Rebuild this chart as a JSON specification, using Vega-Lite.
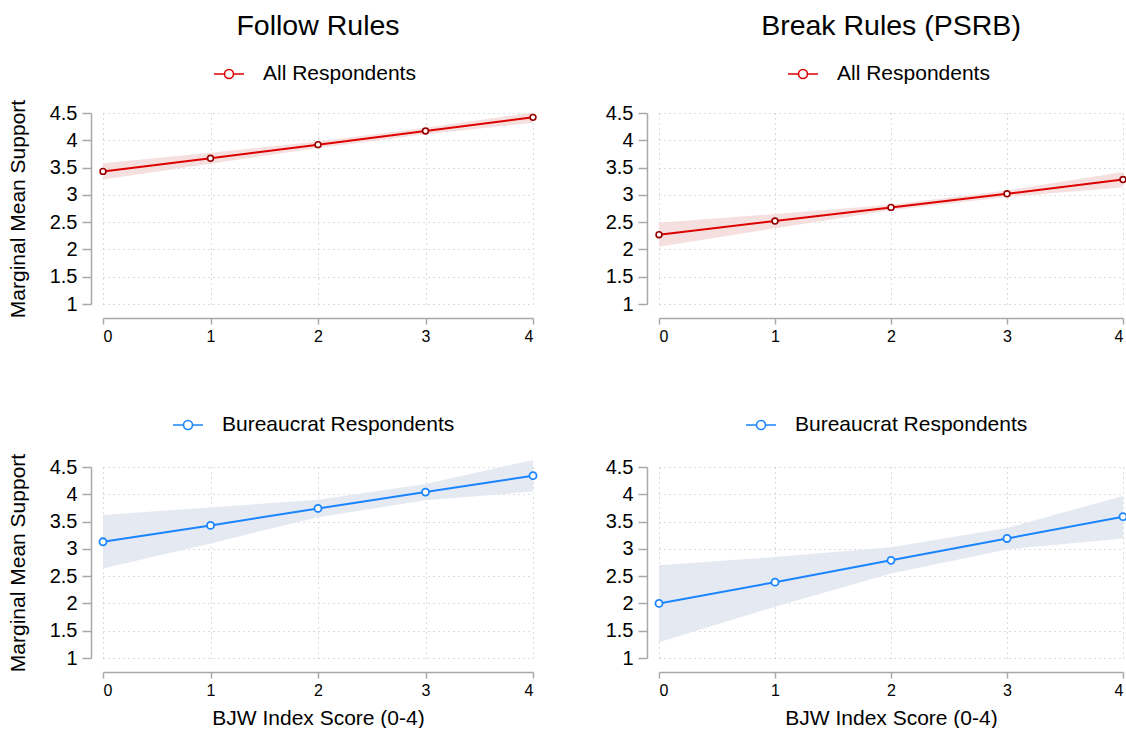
{
  "$schema": "https://vega.github.io/schema/vega-lite/v6.json",
  "padding": {"left": 7, "top": 11, "right": 0, "bottom": 0},
  "background": "white",
  "datasets": {
    "fa": [
      {"x": 0, "y": 3.43, "lo": 3.28, "hi": 3.58, "group": "All Respondents"},
      {"x": 1, "y": 3.67, "lo": 3.57, "hi": 3.77, "group": "All Respondents"},
      {"x": 2, "y": 3.92, "lo": 3.86, "hi": 3.98, "group": "All Respondents"},
      {"x": 3, "y": 4.17, "lo": 4.11, "hi": 4.23, "group": "All Respondents"},
      {"x": 4, "y": 4.42, "lo": 4.32, "hi": 4.51, "group": "All Respondents"}
    ],
    "ba": [
      {"x": 0, "y": 2.27, "lo": 2.05, "hi": 2.49, "group": "All Respondents"},
      {"x": 1, "y": 2.52, "lo": 2.39, "hi": 2.65, "group": "All Respondents"},
      {"x": 2, "y": 2.77, "lo": 2.72, "hi": 2.82, "group": "All Respondents"},
      {"x": 3, "y": 3.02, "lo": 2.96, "hi": 3.08, "group": "All Respondents"},
      {"x": 4, "y": 3.28, "lo": 3.14, "hi": 3.42, "group": "All Respondents"}
    ],
    "fb": [
      {"x": 0, "y": 3.13, "lo": 2.64, "hi": 3.62, "group": "Bureaucrat Respondents"},
      {"x": 1, "y": 3.43, "lo": 3.10, "hi": 3.76, "group": "Bureaucrat Respondents"},
      {"x": 2, "y": 3.74, "lo": 3.58, "hi": 3.90, "group": "Bureaucrat Respondents"},
      {"x": 3, "y": 4.04, "lo": 3.89, "hi": 4.19, "group": "Bureaucrat Respondents"},
      {"x": 4, "y": 4.34, "lo": 4.05, "hi": 4.63, "group": "Bureaucrat Respondents"}
    ],
    "bb": [
      {"x": 0, "y": 2.00, "lo": 1.29, "hi": 2.70, "group": "Bureaucrat Respondents"},
      {"x": 1, "y": 2.39, "lo": 1.94, "hi": 2.85, "group": "Bureaucrat Respondents"},
      {"x": 2, "y": 2.79, "lo": 2.55, "hi": 3.03, "group": "Bureaucrat Respondents"},
      {"x": 3, "y": 3.19, "lo": 2.99, "hi": 3.38, "group": "Bureaucrat Respondents"},
      {"x": 4, "y": 3.59, "lo": 3.19, "hi": 3.97, "group": "Bureaucrat Respondents"}
    ]
  },
  "columns": 2,
  "spacing": {"row": 163, "column": 126},
  "bounds": "flush",
  "resolve": {"scale": {"x": "independent", "y": "independent", "color": "independent"}, "legend": {"color": "independent"}, "axis": {"x": "independent", "y": "independent"}},
  "concat": [
    {
      "width": 430, "height": 191,
      "title": "Follow Rules",
      "data": {"name": "fa"},
      "encoding": {"x": {"field": "x", "type": "quantitative", "title": null, "scale": {"domain": [0, 4], "nice": false, "zero": false}, "axis": {"values": [0, 1, 2, 3, 4], "format": "d", "offset": 14, "tickSize": 6, "labelPadding": 4, "labelFontSize": 16}}},
      "layer": [
        {"mark": {"type": "area", "color": "#f5d9d9", "opacity": 0.85}, "encoding": {"y": {"field": "lo", "type": "quantitative", "title": "Marginal Mean Support", "scale": {"domain": [1, 4.5], "nice": false, "zero": false}, "axis": {"values": [1, 1.5, 2, 2.5, 3, 3.5, 4, 4.5], "format": "~g", "labelOverlap": false, "offset": 12, "tickSize": 9, "labelPadding": 5, "labelFontSize": 20, "titleFontSize": 21, "titlePadding": 21}}, "y2": {"field": "hi"}}},
        {"mark": {"type": "line", "strokeWidth": 2}, "encoding": {"y": {"field": "y", "type": "quantitative", "title": "Marginal Mean Support", "axis": {"values": [1, 1.5, 2, 2.5, 3, 3.5, 4, 4.5], "format": "~g", "labelOverlap": false, "offset": 12, "tickSize": 9, "labelPadding": 5, "labelFontSize": 20, "titleFontSize": 21, "titlePadding": 21}}, "color": {"field": "group", "type": "nominal", "scale": {"range": ["#dd0000"]}, "legend": {"orient": "none", "legendX": 110, "legendY": -55, "title": null, "symbolType": "M-1,0H-0.3M0.3,0H1M-0.3,0A0.3,0.3,0,1,1,0.3,0A0.3,0.3,0,1,1,-0.3,0", "symbolSize": 900, "symbolStrokeWidth": 1.6, "labelFontSize": 21, "labelOffset": 18, "labelLimit": 400}}}},
        {"mark": {"type": "point", "shape": "circle", "filled": false, "fill": "#ffffff", "fillOpacity": 1, "stroke": "#990000", "strokeWidth": 1.6, "size": 34, "opacity": 1}, "encoding": {"y": {"field": "y", "type": "quantitative", "title": "Marginal Mean Support", "axis": {"values": [1, 1.5, 2, 2.5, 3, 3.5, 4, 4.5], "format": "~g", "labelOverlap": false, "offset": 12, "tickSize": 9, "labelPadding": 5, "labelFontSize": 20, "titleFontSize": 21, "titlePadding": 21}}}}
      ]
    },
    {
      "width": 464, "height": 191,
      "title": "Break Rules (PSRB)",
      "data": {"name": "ba"},
      "encoding": {"x": {"field": "x", "type": "quantitative", "title": null, "scale": {"domain": [0, 4], "nice": false, "zero": false}, "axis": {"values": [0, 1, 2, 3, 4], "format": "d", "offset": 14, "tickSize": 6, "labelPadding": 4, "labelFontSize": 16}}},
      "layer": [
        {"mark": {"type": "area", "color": "#f5d9d9", "opacity": 0.85}, "encoding": {"y": {"field": "lo", "type": "quantitative", "title": null, "scale": {"domain": [1, 4.5], "nice": false, "zero": false}, "axis": {"values": [1, 1.5, 2, 2.5, 3, 3.5, 4, 4.5], "format": "~g", "labelOverlap": false, "offset": 12, "tickSize": 9, "labelPadding": 5, "labelFontSize": 20}}, "y2": {"field": "hi"}}},
        {"mark": {"type": "line", "strokeWidth": 2}, "encoding": {"y": {"field": "y", "type": "quantitative", "title": null, "axis": {"values": [1, 1.5, 2, 2.5, 3, 3.5, 4, 4.5], "format": "~g", "labelOverlap": false, "offset": 12, "tickSize": 9, "labelPadding": 5, "labelFontSize": 20}}, "color": {"field": "group", "type": "nominal", "scale": {"range": ["#dd0000"]}, "legend": {"orient": "none", "legendX": 128, "legendY": -55, "title": null, "symbolType": "M-1,0H-0.3M0.3,0H1M-0.3,0A0.3,0.3,0,1,1,0.3,0A0.3,0.3,0,1,1,-0.3,0", "symbolSize": 900, "symbolStrokeWidth": 1.6, "labelFontSize": 21, "labelOffset": 18, "labelLimit": 400}}}},
        {"mark": {"type": "point", "shape": "circle", "filled": false, "fill": "#ffffff", "fillOpacity": 1, "stroke": "#990000", "strokeWidth": 1.6, "size": 34, "opacity": 1}, "encoding": {"y": {"field": "y", "type": "quantitative", "title": null, "axis": {"values": [1, 1.5, 2, 2.5, 3, 3.5, 4, 4.5], "format": "~g", "labelOverlap": false, "offset": 12, "tickSize": 9, "labelPadding": 5, "labelFontSize": 20}}}}
      ]
    },
    {
      "width": 430, "height": 191,
      "data": {"name": "fb"},
      "encoding": {"x": {"field": "x", "type": "quantitative", "title": "BJW Index Score (0-4)", "scale": {"domain": [0, 4], "nice": false, "zero": false}, "axis": {"values": [0, 1, 2, 3, 4], "format": "d", "offset": 14, "tickSize": 6, "labelPadding": 4, "labelFontSize": 16, "titleFontSize": 21, "titlePadding": 9}}},
      "layer": [
        {"mark": {"type": "area", "color": "#e2e7f1", "opacity": 0.9}, "encoding": {"y": {"field": "lo", "type": "quantitative", "title": "Marginal Mean Support", "scale": {"domain": [1, 4.5], "nice": false, "zero": false}, "axis": {"values": [1, 1.5, 2, 2.5, 3, 3.5, 4, 4.5], "format": "~g", "labelOverlap": false, "offset": 12, "tickSize": 9, "labelPadding": 5, "labelFontSize": 20, "titleFontSize": 21, "titlePadding": 21}}, "y2": {"field": "hi"}}},
        {"mark": {"type": "line", "strokeWidth": 2}, "encoding": {"y": {"field": "y", "type": "quantitative", "title": "Marginal Mean Support", "axis": {"values": [1, 1.5, 2, 2.5, 3, 3.5, 4, 4.5], "format": "~g", "labelOverlap": false, "offset": 12, "tickSize": 9, "labelPadding": 5, "labelFontSize": 20, "titleFontSize": 21, "titlePadding": 21}}, "color": {"field": "group", "type": "nominal", "scale": {"range": ["#1a85ff"]}, "legend": {"orient": "none", "legendX": 69, "legendY": -58, "title": null, "symbolType": "M-1,0H-0.3M0.3,0H1M-0.3,0A0.3,0.3,0,1,1,0.3,0A0.3,0.3,0,1,1,-0.3,0", "symbolSize": 900, "symbolStrokeWidth": 1.6, "labelFontSize": 21, "labelOffset": 18, "labelLimit": 400}}}},
        {"mark": {"type": "point", "shape": "circle", "filled": false, "fill": "#ffffff", "fillOpacity": 1, "stroke": "#1a85ff", "strokeWidth": 1.8, "size": 50, "opacity": 1}, "encoding": {"y": {"field": "y", "type": "quantitative", "title": "Marginal Mean Support", "axis": {"values": [1, 1.5, 2, 2.5, 3, 3.5, 4, 4.5], "format": "~g", "labelOverlap": false, "offset": 12, "tickSize": 9, "labelPadding": 5, "labelFontSize": 20, "titleFontSize": 21, "titlePadding": 21}}}}
      ]
    },
    {
      "width": 464, "height": 191,
      "data": {"name": "bb"},
      "encoding": {"x": {"field": "x", "type": "quantitative", "title": "BJW Index Score (0-4)", "scale": {"domain": [0, 4], "nice": false, "zero": false}, "axis": {"values": [0, 1, 2, 3, 4], "format": "d", "offset": 14, "tickSize": 6, "labelPadding": 4, "labelFontSize": 16, "titleFontSize": 21, "titlePadding": 9}}},
      "layer": [
        {"mark": {"type": "area", "color": "#e2e7f1", "opacity": 0.9}, "encoding": {"y": {"field": "lo", "type": "quantitative", "title": null, "scale": {"domain": [1, 4.5], "nice": false, "zero": false}, "axis": {"values": [1, 1.5, 2, 2.5, 3, 3.5, 4, 4.5], "format": "~g", "labelOverlap": false, "offset": 12, "tickSize": 9, "labelPadding": 5, "labelFontSize": 20}}, "y2": {"field": "hi"}}},
        {"mark": {"type": "line", "strokeWidth": 2}, "encoding": {"y": {"field": "y", "type": "quantitative", "title": null, "axis": {"values": [1, 1.5, 2, 2.5, 3, 3.5, 4, 4.5], "format": "~g", "labelOverlap": false, "offset": 12, "tickSize": 9, "labelPadding": 5, "labelFontSize": 20}}, "color": {"field": "group", "type": "nominal", "scale": {"range": ["#1a85ff"]}, "legend": {"orient": "none", "legendX": 86, "legendY": -58, "title": null, "symbolType": "M-1,0H-0.3M0.3,0H1M-0.3,0A0.3,0.3,0,1,1,0.3,0A0.3,0.3,0,1,1,-0.3,0", "symbolSize": 900, "symbolStrokeWidth": 1.6, "labelFontSize": 21, "labelOffset": 18, "labelLimit": 400}}}},
        {"mark": {"type": "point", "shape": "circle", "filled": false, "fill": "#ffffff", "fillOpacity": 1, "stroke": "#1a85ff", "strokeWidth": 1.8, "size": 50, "opacity": 1}, "encoding": {"y": {"field": "y", "type": "quantitative", "title": null, "axis": {"values": [1, 1.5, 2, 2.5, 3, 3.5, 4, 4.5], "format": "~g", "labelOverlap": false, "offset": 12, "tickSize": 9, "labelPadding": 5, "labelFontSize": 20}}}}
      ]
    }
  ],
  "config": {
    "font": "Liberation Sans",
    "view": {"stroke": null},
    "title": {"fontSize": 28.5, "fontWeight": "normal", "anchor": "middle", "frame": "group", "offset": 18, "color": "#000000"},
    "axis": {"domainColor": "#a8a8a8", "tickColor": "#a8a8a8", "domainWidth": 1.5, "tickWidth": 1.5, "grid": true, "gridDash": [1, 4], "gridColor": "#b8b8b8", "gridWidth": 1, "labelColor": "#000000", "titleColor": "#000000", "titleFontWeight": "normal", "labelFont": "Liberation Sans", "titleFont": "Liberation Sans"},
    "legend": {"labelColor": "#000000", "labelFont": "Liberation Sans"}
  }
}
